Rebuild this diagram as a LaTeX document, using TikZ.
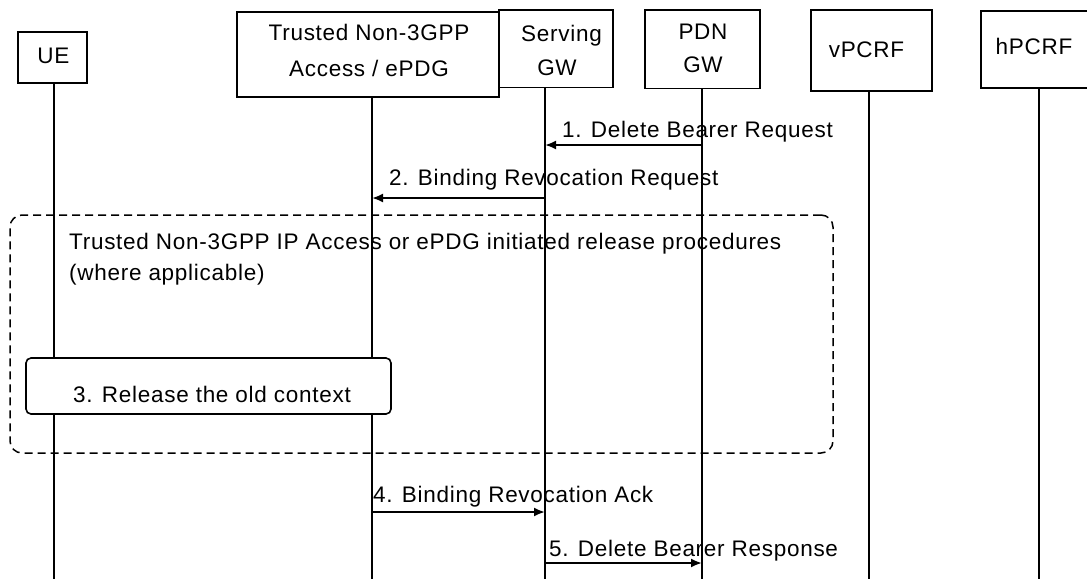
\documentclass[tikz,border=0pt]{standalone}
\usepackage{fontspec}
\setmainfont{Liberation Sans}[LetterSpace=3.2]
\usetikzlibrary{arrows.meta}
\begin{document}
\begin{tikzpicture}[x=1pt,y=-1pt,
  box/.style={draw,line width=1.6pt,inner sep=0pt,fill=white},
  lbl/.style={inner sep=0pt,font=\fontsize{22.5}{27}\selectfont},
  life/.style={line width=1.6pt},
  msg/.style={line width=2pt,-{Latex[length=11pt,width=9pt]}},
  grpbox/.style={draw,line width=1.5pt,dash pattern=on 8pt off 5pt,rounded corners=12pt,inner sep=0pt},
  relbox/.style={draw,line width=1.6pt,rounded corners=5pt,fill=white,inner sep=0pt}
]
\useasboundingbox (0,0) rectangle (1087,579);
\clip (0,0) rectangle (1087,579);
\fill[white] (0,0) rectangle (1087,579);

% header boxes
\node[box,minimum width=69pt,minimum height=51pt] (ue) at (52.5,57.5) {};
\node[box,minimum width=262.3pt,minimum height=85pt] (tn) at (367.85,54.2) {};
\node[box,minimum width=114pt,minimum height=77.3pt] (sg) at (556,48.65) {};
\node[box,minimum width=115pt,minimum height=78.3pt] (pg) at (702.5,49.15) {};
\node[box,minimum width=121pt,minimum height=81pt] (vp) at (871.5,50.5) {};
\node[box,minimum width=114pt,minimum height=77pt] (hp) at (1038,49.2) {};

% header texts
\node[lbl,anchor=base] (tue) at (53.3,63) {UE};
\node[lbl,anchor=base] (ttn1) at (369,40) {Trusted Non-3GPP};
\node[lbl,anchor=base] (ttn2) at (369,76) {Access / ePDG};
\node[lbl,anchor=base] (tsg1) at (561.5,41.7) {Serving};
\node[lbl,anchor=base] (tsg2) at (557,75) {GW};
\node[lbl,anchor=base] (tpg1) at (703,39) {PDN};
\node[lbl,anchor=base] (tpg2) at (703,72) {GW};
\node[lbl,anchor=base] (tvp) at (866.5,57.3) {vPCRF};
\node[lbl,anchor=base] (thp) at (1034,54) {hPCRF};

% lifeline x positions
\coordinate (uex) at (54,0);
\coordinate (tnx) at (372,0);
\coordinate (sgx) at (545,0);
\coordinate (pgx) at (702,0);
\coordinate (vpx) at (869,0);
\coordinate (hpx) at (1039,0);
\coordinate (bot) at (0,579);

\draw[life] (uex |- ue.south) -- (uex |- bot);
\draw[life] (tnx |- tn.south) -- (tnx |- bot);
\draw[life] (sgx |- sg.south) -- (sgx |- bot);
\draw[life] (pgx |- pg.south) -- (pgx |- bot);
\draw[life] (vpx |- vp.south) -- (vpx |- bot);
\draw[life] (hpx |- hp.south) -- (hpx |- bot);

% group box
\node[grpbox,minimum width=823pt,minimum height=238pt] (grp) at (421.5,334) {};
\node[lbl,anchor=base west] (tgrp1) at (69,249) {Trusted Non-3GPP IP Access or ePDG initiated release procedures};
\node[lbl,anchor=base west] (tgrp2) at (69,280) {(where applicable)};

% release box
\node[relbox,minimum width=365pt,minimum height=56pt] (rel) at (208.5,386) {};
\node[lbl,anchor=base west] (trel) at (73,402.7) {3. Release the old context};

% messages
\coordinate (y1) at (0,145);
\coordinate (y2) at (0,198);
\coordinate (y4) at (0,512);
\coordinate (y5) at (0,563);

\draw[msg] (pgx |- y1) -- (sgx |- y1);
\node[lbl,anchor=base west] (m1) at (562,137) {1. Delete Bearer Request};

\draw[msg] (sgx |- y2) -- (tnx |- y2);
\node[lbl,anchor=base west] (m2) at (389,185) {2. Binding Revocation Request};

\draw[msg] (tnx |- y4) -- (sgx |- y4);
\node[lbl,anchor=base west] (m4) at (373,502) {4. Binding Revocation Ack};

\draw[msg] (sgx |- y5) -- (pgx |- y5);
\node[lbl,anchor=base west] (m5) at (549,556) {5. Delete Bearer Response};

\end{tikzpicture}
\end{document}
